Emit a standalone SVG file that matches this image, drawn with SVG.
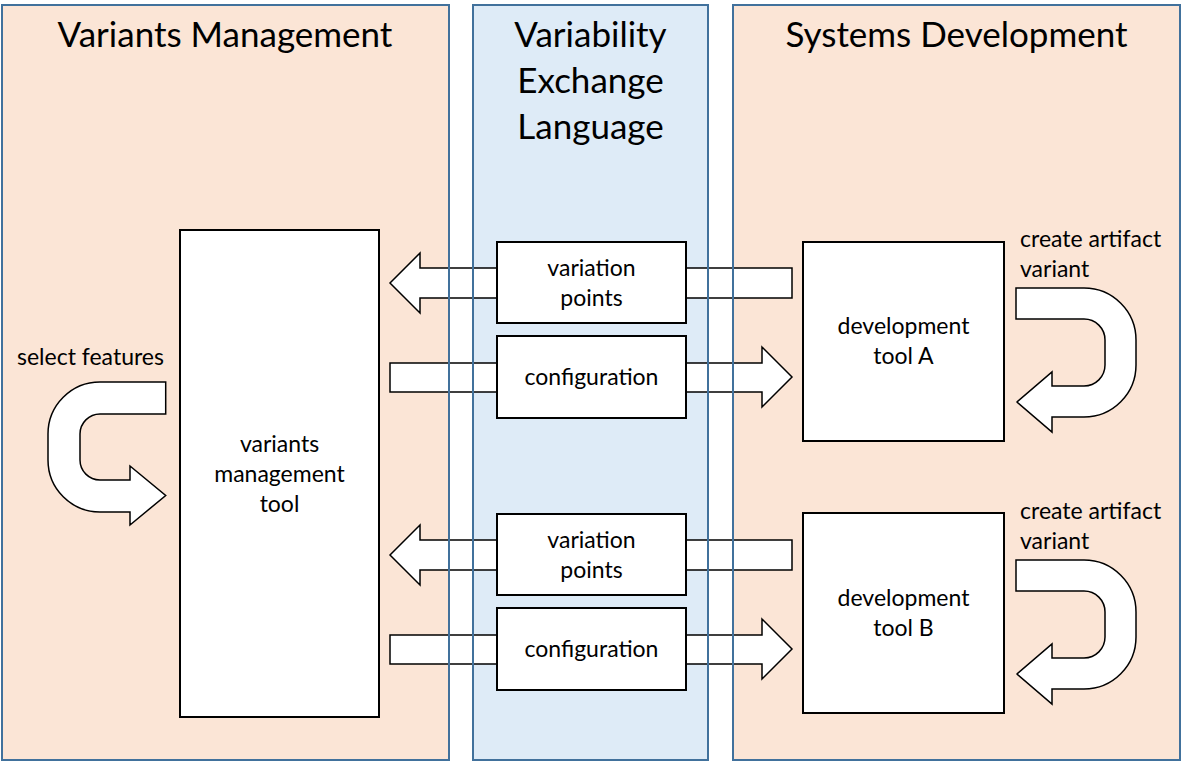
<svg xmlns="http://www.w3.org/2000/svg" width="1184" height="762" viewBox="0 0 1184 762">
<style>
.txt{font-family:Lato,"Liberation Sans",sans-serif;fill:#000}
.title{font-size:35px;text-anchor:middle}
.body{font-size:23px}
.mid{text-anchor:middle}
.pbeige{fill:#FBE5D6;stroke:none}
.pblue{fill:#DEEBF7;stroke:none}
.pline{fill:none;stroke:#41719C;stroke-width:2}
.box{fill:#FFFFFF;stroke:#000;stroke-width:2}
.arrow{fill:#FFFFFF;stroke:#000;stroke-width:1.5;stroke-linejoin:miter}
</style>
<rect x="0" y="0" width="1184" height="762" fill="#FFFFFF"/>
<g id="panel-variants-management">
<rect class="pbeige" x="2" y="5" width="447" height="755"/>
<text class="txt title" x="225" y="47">Variants Management</text>
</g>
<g id="panel-vel">
<rect class="pblue" x="473" y="5" width="235" height="755"/>
<text class="txt title" x="590.5" y="47">Variability</text>
<text class="txt title" x="590.5" y="93">Exchange</text>
<text class="txt title" x="590.5" y="139">Language</text>
</g>
<g id="panel-systems-development">
<rect class="pbeige" x="733" y="5" width="447" height="755"/>
<text class="txt title" x="956.5" y="47">Systems Development</text>
</g>
<g id="connectors">
<path class="arrow" d="M792,268 H420 V253 L390,283 L420,313 V298 H792 Z"/>
<path class="arrow" d="M390,363 H762 V347 L792,377 L762,407 V392 H390 Z"/>
<path class="arrow" d="M792,540 H420 V525 L390,555 L420,585 V570 H792 Z"/>
<path class="arrow" d="M390,635 H762 V619 L792,649 L762,679 V664 H390 Z"/>
<path class="arrow" d="M165.7,382 H100 A52,52 0 0 0 48,434 V460 A52,52 0 0 0 100,512 H130 V525 L165.7,495.5 L130,466 V480 H100 A20,20 0 0 1 80,460 V434 A20,20 0 0 1 100,414 H165.7 Z"/>
<path class="arrow" d="M1016,288 H1084 A52,52 0 0 1 1136,340 V365 A52,52 0 0 1 1084,417 H1052 V432 L1017,402 L1052,372 V386 H1084 A21,21 0 0 0 1105,365 V340 A21,21 0 0 0 1084,319 H1016 Z"/>
<path class="arrow" transform="translate(0,272)" d="M1016,288 H1084 A52,52 0 0 1 1136,340 V365 A52,52 0 0 1 1084,417 H1052 V432 L1017,402 L1052,372 V386 H1084 A21,21 0 0 0 1105,365 V340 A21,21 0 0 0 1084,319 H1016 Z"/>
</g>
<g id="panel-borders">
<rect class="pline" x="2" y="5" width="447" height="755"/>
<rect class="pline" x="473" y="5" width="235" height="755"/>
<rect class="pline" x="733" y="5" width="447" height="755"/>
</g>
<g id="variants-management-tool">
<rect class="box" x="180" y="230" width="199" height="487"/>
<text class="txt body mid" x="279.5" y="452">variants</text>
<text class="txt body mid" x="279.5" y="482">management</text>
<text class="txt body mid" x="279.5" y="512">tool</text>
</g>
<g id="variation-points-a">
<rect class="box" x="497" y="242" width="189" height="81"/>
<text class="txt body mid" x="591.5" y="276">variation</text>
<text class="txt body mid" x="591.5" y="306">points</text>
</g>
<g id="configuration-a">
<rect class="box" x="497" y="336" width="189" height="82"/>
<text class="txt body mid" x="591.5" y="385">configuration</text>
</g>
<g id="variation-points-b">
<rect class="box" x="497" y="514" width="189" height="81"/>
<text class="txt body mid" x="591.5" y="548">variation</text>
<text class="txt body mid" x="591.5" y="578">points</text>
</g>
<g id="configuration-b">
<rect class="box" x="497" y="608" width="189" height="82"/>
<text class="txt body mid" x="591.5" y="657">configuration</text>
</g>
<g id="development-tool-a">
<rect class="box" x="803" y="242" width="201" height="199"/>
<text class="txt body mid" x="903.5" y="334">development</text>
<text class="txt body mid" x="903.5" y="364">tool A</text>
</g>
<g id="development-tool-b">
<rect class="box" x="803" y="513" width="201" height="200"/>
<text class="txt body mid" x="903.5" y="606">development</text>
<text class="txt body mid" x="903.5" y="636">tool B</text>
</g>
<g id="labels">
<text class="txt body" x="17" y="365">select features</text>
<text class="txt body" x="1020" y="247">create artifact</text>
<text class="txt body" x="1020" y="277">variant</text>
<text class="txt body" x="1020" y="519">create artifact</text>
<text class="txt body" x="1020" y="549">variant</text>
</g>
</svg>
